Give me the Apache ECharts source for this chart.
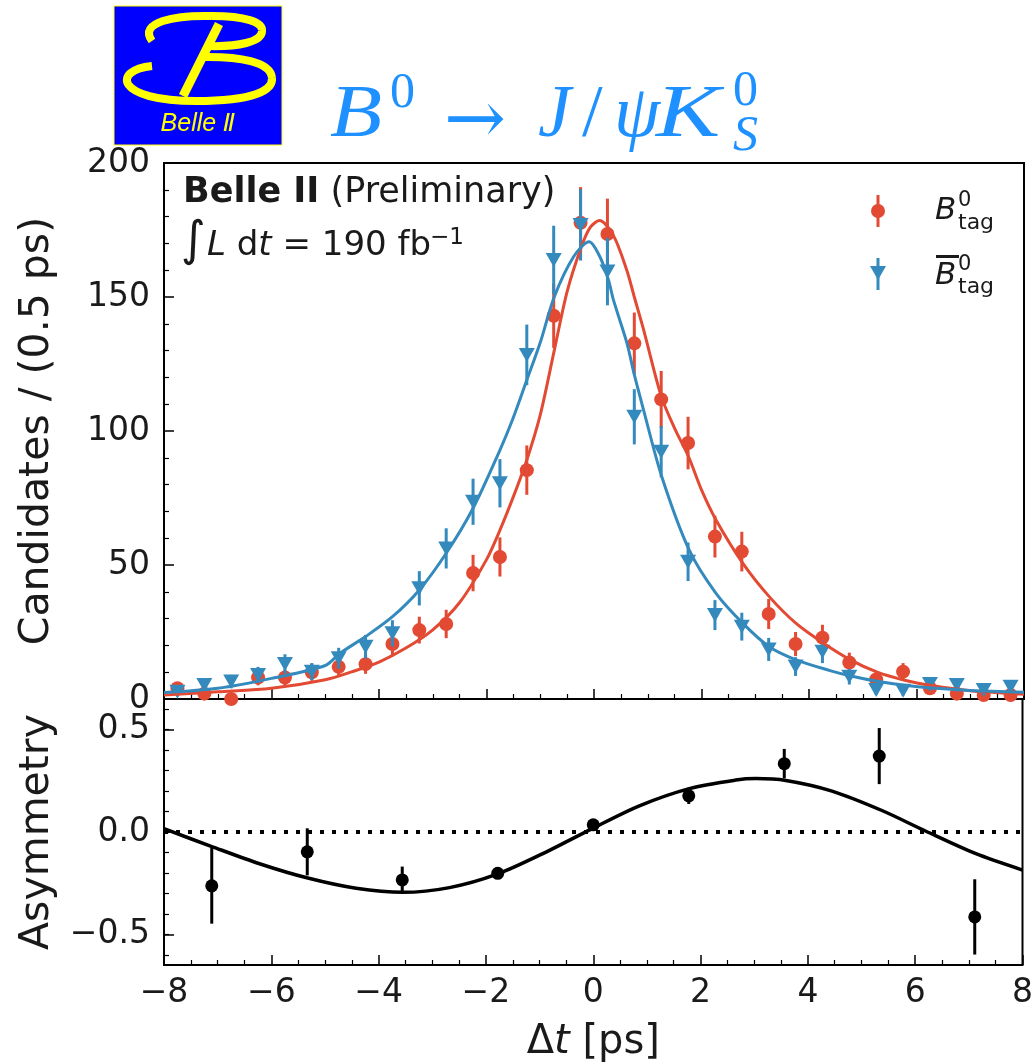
<!DOCTYPE html>
<html>
<head>
<meta charset="utf-8">
<script src="https://cdn.jsdelivr.net/npm/echarts@6/dist/echarts.min.js"></script>
<style>
  html, body { margin: 0; padding: 0; background: #fff; }
  #chart { width: 1036px; height: 1064px; }
</style>
</head>
<body>
<div id="chart"></div>
<script>
// bin centres of the 0.5 ps histogram
const dtBins = [-7.75, -7.25, -6.75, -6.25, -5.75, -5.25, -4.75, -4.25, -3.75, -3.25, -2.75, -2.25, -1.75, -1.25, -0.75, -0.25,
  0.25, 0.75, 1.25, 1.75, 2.25, 2.75, 3.25, 3.75, 4.25, 4.75, 5.25, 5.75, 6.25, 6.75, 7.25, 7.75];

// B0 tagged candidates
const b0Counts = [4, 2, 0, 8, 8, 10, 12, 13, 20.5, 25.7, 28, 47, 53, 85.4, 143, 177.7,
  173.5, 132.7, 111.8, 95.5, 60.6, 55, 31.7, 20.5, 22.9, 13.6, 7.3, 10.2, 4, 2, 1.5, 1.5];
const b0Errs = [2, 1.5, 1, 2.9, 2.9, 3.2, 3.5, 3.6, 4.5, 5, 5.3, 6.8, 7.3, 9.2, 12, 13.3,
  13.2, 11.5, 10.6, 9.8, 7.8, 7.4, 5.6, 4.5, 4.8, 3.7, 2.7, 3.2, 2, 1.4, 1.2, 1.2];

// anti-B0 tagged candidates
const b0barCounts = [2.7, 5.2, 6.5, 9, 13.1, 10.2, 15.2, 19.5, 24.5, 41.3, 56.2, 73.6, 80.5, 128.4, 163.8, 176.9,
  159.5, 105.3, 92.3, 51.2, 31.3, 27, 18.5, 12.1, 17.6, 8.3, 3.4, 3.1, 5.6, 5.2, 3.4, 4.6];
const b0barErrs = [1.6, 2.3, 2.5, 3, 3.6, 3.2, 3.9, 4.4, 4.9, 6.4, 7.5, 8.6, 9, 11.3, 12.8, 13.3,
  12.6, 10.3, 9.6, 7.2, 5.6, 5.2, 4.3, 3.5, 4.2, 2.9, 1.8, 1.8, 2.4, 2.3, 1.8, 2.1];

// fit curves
const b0FitX = [-8, -7, -6, -5, -4.5, -4, -3.5, -3, -2.5, -2, -1.75, -1.5, -1.25, -1, -0.74, -0.5, -0.23, -0.07, 0.1,
  0.36, 0.61, 0.75, 0.92, 1.25, 1.5, 1.76, 2, 2.27, 2.77, 3.26, 3.76, 4.27, 4.78, 5.27, 5.78, 6.28, 7, 8];
const b0FitY = [1.5, 2.7, 4.0, 7.2, 10.2, 13.8, 19, 25.8, 36, 52, 63, 75.5, 89.2, 106, 130, 152, 169, 176, 178.5,
  173, 160, 150, 138, 113, 101, 90.4, 78, 66.8, 50.6, 38.2, 28.2, 20.8, 14.5, 10, 7, 5, 3.1, 1.8];
const b0barFitX = [-8, -7, -6, -5, -4.73, -4.25, -3.75, -3.25, -2.75, -2.25, -1.75, -1.52, -1.25, -1, -0.74, -0.38, -0.09,
  0.11, 0.27, 0.36, 0.61, 0.75, 0.92, 1.26, 1.77, 2.27, 2.77, 3.26, 3.76, 4.39, 4.78, 5.27, 5.78, 6.28, 7, 8];
const b0barFitY = [2.4, 4.0, 7.7, 12.5, 17, 23.3, 30.7, 40.7, 54.4, 71.2, 92.9, 104, 119, 133, 150, 165, 170.6,
  165, 156.3, 149, 133, 121, 108, 83, 55.6, 39.4, 28.2, 19.5, 14.6, 10.6, 8.6, 6.6, 5.1, 4.1, 3.2, 2.5];

// asymmetry panel
const asymX = [-7.11, -5.33, -3.56, -1.78, 0, 1.78, 3.56, 5.33, 7.11];
const asymY = [-0.263, -0.097, -0.234, -0.202, 0.035, 0.177, 0.334, 0.371, -0.415];
const asymErr = [0.185, 0.115, 0.065, 0.025, 0.012, 0.04, 0.072, 0.137, 0.184];
const asymFitX = [-8, -7.12, -6.22, -5.32, -4.42, -3.55, -2.68, -1.78, -0.88, -0.01, 0.86, 1.79, 2.66, 3.03, 3.59, 4.45, 5.38, 6.19, 7.12, 8];
const asymFitY = [0.016, -0.07, -0.155, -0.225, -0.275, -0.295, -0.272, -0.205, -0.098, 0.018, 0.128, 0.212, 0.254, 0.261, 0.252, 0.2, 0.105, 0.005, -0.105, -0.186];

const countTicks = [0, 50, 100, 150, 200];
const asymTicks = [-0.5, 0, 0.5];
const asymMinorTicks = [-0.6, -0.5, -0.4, -0.3, -0.2, -0.1, 0, 0.1, 0.2, 0.3, 0.4, 0.5, 0.6];

const RED = "#E24A33";
const BLUE = "#348ABD";
const TITLE_BLUE = "#1E90FF";
const FONT = "DejaVu Sans";
const TEXT = "#1a1a1a";

const zip = (xs, ys) => xs.map((x, i) => [x, ys[i]]);
const zip3 = (xs, ys, es) => xs.map((x, i) => [x, ys[i], es[i]]);
const minus = (s) => String(s).replace("-", "\u2212");

function errorBars(color, width) {
  return (params, api) => {
    const x = api.value(0);
    const y = api.value(1);
    const e = api.value(2);
    const top = api.coord([x, y + e]);
    const bot = api.coord([x, y - e]);
    return {
      type: "line",
      shape: { x1: top[0], y1: top[1], x2: bot[0], y2: bot[1] },
      style: { stroke: color, lineWidth: width },
    };
  };
}

const chart = echarts.init(document.getElementById("chart"), null, { renderer: "canvas" });

const noLine = { show: false, onZero: false };
const tickStyle = { show: true, inside: true, length: 10, lineStyle: { color: "#000", width: 1.5 } };
const minorStyle = { show: true, length: 5, lineStyle: { color: "#000", width: 1.2 } };
const labelStyle = { fontFamily: FONT, fontSize: 33, color: TEXT };

const option = {
  animation: false,
  backgroundColor: "#fff",
  grid: [
    { left: 164, top: 163, width: 860, height: 536, show: true, borderColor: "#000", borderWidth: 2, backgroundColor: "transparent" },
    { left: 164, top: 699, width: 860, height: 268, show: true, borderColor: "#000", borderWidth: 2, backgroundColor: "transparent" },
  ],
  xAxis: [
    {
      type: "value", gridIndex: 0, position: "bottom", min: -8, max: 8, interval: 2,
      axisLine: noLine, axisTick: tickStyle,
      minorTick: { ...minorStyle, splitNumber: 4 },
      axisLabel: { show: false }, splitLine: { show: false },
    },
    {
      type: "value", gridIndex: 1, position: "bottom", min: -8, max: 8, interval: 2,
      axisLine: noLine, axisTick: tickStyle,
      minorTick: { ...minorStyle, splitNumber: 4 },
      axisLabel: { ...labelStyle, margin: 12, formatter: (v) => minus(v) },
      splitLine: { show: false },
      name: "\u0394{i|t} [ps]", nameLocation: "middle", nameGap: 58,
      nameTextStyle: { fontFamily: FONT, fontSize: 40, color: TEXT,
        rich: { i: { fontFamily: FONT, fontSize: 40, fontStyle: "italic", color: TEXT } } },
    },
  ],
  yAxis: [
    {
      type: "value", gridIndex: 0, position: "left", min: 0, max: 200, interval: 50,
      axisLine: noLine, axisTick: tickStyle,
      minorTick: { ...minorStyle, splitNumber: 5 },
      axisLabel: { ...labelStyle, margin: 14, customValues: countTicks },
      splitLine: { show: false },
      name: "Candidates / (0.5 ps)", nameLocation: "middle", nameGap: 106,
      nameTextStyle: { fontFamily: FONT, fontSize: 41, color: TEXT },
    },
    {
      type: "value", gridIndex: 1, position: "left", min: -0.65, max: 0.65,
      axisLine: noLine,
      axisTick: { ...tickStyle, customValues: asymTicks },
      axisLabel: { ...labelStyle, margin: 14, customValues: asymTicks, formatter: (v) => minus(v.toFixed(1)) },
      splitLine: { show: false },
      name: "Asymmetry", nameLocation: "middle", nameGap: 106,
      nameTextStyle: { fontFamily: FONT, fontSize: 41, color: TEXT },
    },
    {
      // minor ticks of the asymmetry axis
      type: "value", gridIndex: 1, position: "left", min: -0.65, max: 0.65,
      axisLine: noLine,
      axisTick: { show: true, inside: true, length: 5, customValues: asymMinorTicks, lineStyle: { color: "#000", width: 1.2 } },
      axisLabel: { show: false }, splitLine: { show: false },
    },
  ],
  series: [
    {
      type: "custom", name: "b0 err", xAxisIndex: 0, yAxisIndex: 0, clip: true, z: 2,
      renderItem: errorBars(RED, 3), encode: { x: 0, y: 1 },
      data: zip3(dtBins, b0Counts, b0Errs),
    },
    {
      type: "scatter", name: "b0", xAxisIndex: 0, yAxisIndex: 0, z: 3,
      symbol: "circle", symbolSize: 14, itemStyle: { color: RED, opacity: 1 },
      data: zip(dtBins, b0Counts),
    },
    {
      type: "custom", name: "b0bar err", xAxisIndex: 0, yAxisIndex: 0, clip: true, z: 4,
      renderItem: errorBars(BLUE, 3), encode: { x: 0, y: 1 },
      data: zip3(dtBins, b0barCounts, b0barErrs),
    },
    {
      type: "scatter", name: "b0bar", xAxisIndex: 0, yAxisIndex: 0, z: 5,
      symbol: "triangle", symbolRotate: 180, symbolSize: [16, 14], itemStyle: { color: BLUE, opacity: 1 },
      data: zip(dtBins, b0barCounts),
    },
    {
      type: "line", name: "b0 fit", xAxisIndex: 0, yAxisIndex: 0, z: 6, clip: true,
      showSymbol: false, smooth: 0.3, lineStyle: { color: RED, width: 3 },
      data: zip(b0FitX, b0FitY),
    },
    {
      type: "line", name: "b0bar fit", xAxisIndex: 0, yAxisIndex: 0, z: 7, clip: true,
      showSymbol: false, smooth: 0.3, lineStyle: { color: BLUE, width: 3 },
      data: zip(b0barFitX, b0barFitY),
    },
    {
      type: "line", name: "zero", xAxisIndex: 1, yAxisIndex: 1, z: 2,
      showSymbol: false, lineStyle: { color: "#000", width: 4, type: [4, 8] },
      data: [[-8, 0], [8, 0]],
    },
    {
      type: "line", name: "asym fit", xAxisIndex: 1, yAxisIndex: 1, z: 3, clip: true,
      showSymbol: false, smooth: 0.3, lineStyle: { color: "#000", width: 3.5 },
      data: zip(asymFitX, asymFitY),
    },
    {
      type: "custom", name: "asym err", xAxisIndex: 1, yAxisIndex: 1, clip: true, z: 4,
      renderItem: errorBars("#000", 3), encode: { x: 0, y: 1 },
      data: zip3(asymX, asymY, asymErr),
    },
    {
      type: "scatter", name: "asym", xAxisIndex: 1, yAxisIndex: 1, z: 5,
      symbol: "circle", symbolSize: 13, itemStyle: { color: "#000", opacity: 1 },
      data: zip(asymX, asymY),
    },
  ],
  graphic: [
    // Belle II logo
    { type: "rect", shape: { x: 114, y: 6, width: 168, height: 139 }, style: { fill: "#0000FF", stroke: "#FFFF00", lineWidth: 1 } },
    { type: "bezierCurve", shape: { x1: 152, y1: 41, cpx1: 138, cpy1: 22, cpx2: 175, cpy2: 15, x2: 212, y2: 16 }, style: { stroke: "#FFFF00", lineWidth: 8, fill: "none" } },
    { type: "bezierCurve", shape: { x1: 212, y1: 16, cpx1: 245, cpy1: 16, cpx2: 263, cpy2: 22, x2: 262, y2: 31 }, style: { stroke: "#FFFF00", lineWidth: 8, fill: "none" } },
    { type: "bezierCurve", shape: { x1: 262, y1: 31, cpx1: 262, cpy1: 42, cpx2: 238, cpy2: 47, x2: 207, y2: 46 }, style: { stroke: "#FFFF00", lineWidth: 8, fill: "none" } },
    { type: "bezierCurve", shape: { x1: 152, y1: 66, cpx1: 112, cpy1: 70, cpx2: 115, cpy2: 101, x2: 196, y2: 101 }, style: { stroke: "#FFFF00", lineWidth: 8, fill: "none" } },
    { type: "bezierCurve", shape: { x1: 196, y1: 101, cpx1: 255, cpy1: 101, cpx2: 273, cpy2: 90, x2: 272, y2: 78 }, style: { stroke: "#FFFF00", lineWidth: 8, fill: "none" } },
    { type: "bezierCurve", shape: { x1: 272, y1: 78, cpx1: 271, cpy1: 62, cpx2: 240, cpy2: 56, x2: 200, y2: 57 }, style: { stroke: "#FFFF00", lineWidth: 8, fill: "none" } },
    { type: "line", shape: { x1: 219, y1: 24, x2: 183, y2: 96 }, style: { stroke: "#FFFF00", lineWidth: 9 } },
    { type: "text", x: 198, y: 124, style: { text: "Belle \u2161", fill: "#FFFF00", font: 'italic 25px "Liberation Sans", "DejaVu Sans"', textAlign: "center", textVerticalAlign: "middle" } },

    // title
    { type: "text", x: 330, y: 117, scaleX: 1.15, style: { text: "B", fill: TITLE_BLUE, font: 'italic 74px "Liberation Serif"', textAlign: "left", textVerticalAlign: "middle" } },
    { type: "text", x: 390, y: 94, style: { text: "0", fill: TITLE_BLUE, font: '50px "Liberation Serif"', textAlign: "left", textVerticalAlign: "middle" } },
    { type: "text", x: 444, y: 124, style: { text: "\u2192", fill: TITLE_BLUE, font: '74px "DejaVu Serif"', textAlign: "left", textVerticalAlign: "middle" } },
    { type: "text", x: 538, y: 117, style: { text: "J", fill: TITLE_BLUE, font: 'italic 74px "Liberation Serif"', textAlign: "left", textVerticalAlign: "middle" } },
    { type: "text", x: 582, y: 117, style: { text: "/", fill: TITLE_BLUE, font: '74px "Liberation Serif"', textAlign: "left", textVerticalAlign: "middle" } },
    { type: "text", x: 614, y: 117, style: { text: "\u03C8", fill: TITLE_BLUE, font: 'italic 74px "Liberation Serif"', textAlign: "left", textVerticalAlign: "middle" } },
    { type: "text", x: 656, y: 117, scaleX: 1.3, style: { text: "K", fill: TITLE_BLUE, font: 'italic 74px "Liberation Serif"', textAlign: "left", textVerticalAlign: "middle" } },
    { type: "text", x: 733, y: 92, style: { text: "0", fill: TITLE_BLUE, font: '50px "Liberation Serif"', textAlign: "left", textVerticalAlign: "middle" } },
    { type: "text", x: 733, y: 137, style: { text: "S", fill: TITLE_BLUE, font: 'italic 50px "Liberation Serif"', textAlign: "left", textVerticalAlign: "middle" } },

    // experiment labels
    { type: "text", x: 183, y: 193, style: {
      text: "{b|Belle II} (Preliminary)", fill: TEXT, font: '35px "DejaVu Sans"', textAlign: "left", textVerticalAlign: "middle",
      rich: { b: { fontFamily: FONT, fontSize: 35, fontWeight: "bold", fill: TEXT } } } },
    { type: "text", x: 181, y: 243, style: { text: "\u222B", fill: TEXT, font: '48px "DejaVu Sans"', textAlign: "left", textVerticalAlign: "middle" } },
    { type: "text", x: 207, y: 246, style: {
      text: "{i|L} d{i|t} = 190 fb", fill: TEXT, font: '34px "DejaVu Sans"', textAlign: "left", textVerticalAlign: "middle",
      rich: { i: { fontFamily: FONT, fontSize: 34, fontStyle: "italic", fill: TEXT } } } },
    { type: "text", x: 430, y: 238, style: { text: "\u22121", fill: TEXT, font: '23px "DejaVu Sans"', textAlign: "left", textVerticalAlign: "middle" } },

    // legend
    { type: "line", shape: { x1: 878, y1: 195, x2: 878, y2: 227 }, style: { stroke: RED, lineWidth: 3 } },
    { type: "circle", shape: { cx: 878, cy: 211, r: 7 }, style: { fill: RED } },
    { type: "text", x: 935, y: 211, style: { text: "B", fill: TEXT, font: 'italic 31px "DejaVu Sans"', textAlign: "left", textVerticalAlign: "middle" } },
    { type: "text", x: 958, y: 201, style: { text: "0", fill: TEXT, font: '21px "DejaVu Sans"', textAlign: "left", textVerticalAlign: "middle" } },
    { type: "text", x: 958, y: 223, style: { text: "tag", fill: TEXT, font: '22px "DejaVu Sans"', textAlign: "left", textVerticalAlign: "middle" } },
    { type: "line", shape: { x1: 878, y1: 258, x2: 878, y2: 290 }, style: { stroke: BLUE, lineWidth: 3 } },
    { type: "polygon", shape: { points: [[870, 266], [886, 266], [878, 280]] }, style: { fill: BLUE } },
    { type: "line", shape: { x1: 936, y1: 256.5, x2: 959, y2: 256.5 }, style: { stroke: TEXT, lineWidth: 3 } },
    { type: "text", x: 935, y: 276, style: { text: "B", fill: TEXT, font: 'italic 31px "DejaVu Sans"', textAlign: "left", textVerticalAlign: "middle" } },
    { type: "text", x: 958, y: 265, style: { text: "0", fill: TEXT, font: '21px "DejaVu Sans"', textAlign: "left", textVerticalAlign: "middle" } },
    { type: "text", x: 958, y: 287, style: { text: "tag", fill: TEXT, font: '22px "DejaVu Sans"', textAlign: "left", textVerticalAlign: "middle" } },
  ],
};

chart.setOption(option);
</script>
</body>
</html>
